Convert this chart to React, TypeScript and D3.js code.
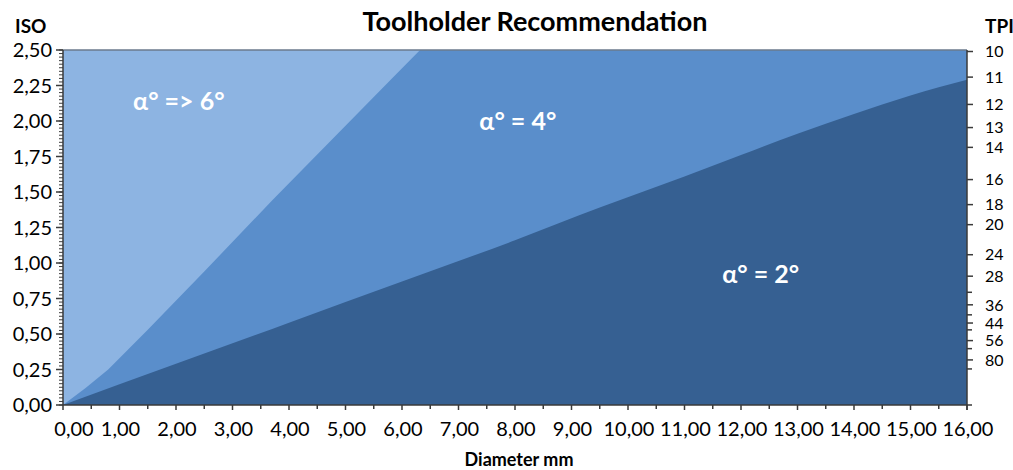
import React from "react";
import * as d3 from "d3";

// ---- data ----
const xTickValues = [0, 1, 2, 3, 4, 5, 6, 7, 8, 9, 10, 11, 12, 13, 14, 15, 16];
const yTickValues = [0, 0.25, 0.5, 0.75, 1, 1.25, 1.5, 1.75, 2, 2.25, 2.5];
const tpiLabeled = [10, 11, 12, 13, 14, 16, 18, 20, 24, 28, 36, 44, 56, 80];
const tpiUnlabeled = [32, 40, 48, 64, 100];

// upper limit of the α = 4° zone (boundary with α => 6°)
const limit4X = [0, 0.4, 0.8, 1.5, 2.5, 3.7, 5.8, 6.32, 16];
const limit4Y = [0, 0.12, 0.25, 0.53, 0.94, 1.44, 2.29, 2.5, 2.5];
// upper limit of the α = 2° zone (boundary with α = 4°)
const limit2X = [0, 2, 4, 6, 8, 9.5, 11, 12, 13, 14, 15, 16];
const limit2Y = [0, 0.29, 0.58, 0.87, 1.16, 1.39, 1.61, 1.76, 1.91, 2.05, 2.18, 2.29];

const zoneLabels = [
  { text: "α° => 6°", x: 2.05, y: 2.08 },
  { text: "α° = 4°", x: 8.05, y: 1.94 },
  { text: "α° = 2°", x: 12.35, y: 0.86 },
];

const W = 1013;
const H = 470;
const FONT = "Lato, 'Open Sans', sans-serif";

export default function App() {
  const x = d3.scaleLinear().domain([0, 16]).range([63, 967]);
  const y = d3.scaleLinear().domain([0, 2.5]).range([405, 50]);
  const fmt = (v: number) => d3.format(".2f")(v).replace(".", ",");

  const pts4 = limit4X.map((v, i) => [v, limit4Y[i]] as [number, number]);
  const pts2 = limit2X.map((v, i) => [v, limit2Y[i]] as [number, number]);

  const area4 = d3
    .area<[number, number]>()
    .x((d) => x(d[0]))
    .y0(y(0))
    .y1((d) => y(d[1]))
    .curve(d3.curveLinear)(pts4) as string;
  const area2 = d3
    .area<[number, number]>()
    .x((d) => x(d[0]))
    .y0(y(0))
    .y1((d) => y(d[1]))
    .curve(d3.curveMonotoneX)(pts2) as string;

  const minorY = d3.range(0, 2.5001, 0.025);
  const minorX = d3.range(0.5, 16, 1);
  const axisColor = "#3a3a3a";

  return (
    <svg
      width={W}
      height={H}
      style={{ position: "absolute", left: 0, top: 0, background: "#fff" }}
      fontFamily={FONT}
    >
      {/* zones */}
      <rect x={x(0)} y={y(2.5)} width={x(16) - x(0)} height={y(0) - y(2.5)} fill="#8DB4E2" />
      <path d={area4} fill="#5A8ECB" />
      <path d={area2} fill="#366092" />

      {/* frame */}
      <line x1={x(0)} x2={x(16)} y1={y(2.5)} y2={y(2.5)} stroke="#6b7a8c" strokeWidth={1.5} />
      <line x1={x(0)} x2={x(0)} y1={y(2.5)} y2={y(0)} stroke={axisColor} strokeWidth={1.5} />
      <line x1={x(0)} x2={x(16) + 5} y1={y(0)} y2={y(0)} stroke={axisColor} strokeWidth={1.5} />
      <line x1={x(16)} x2={x(16)} y1={y(2.5)} y2={y(0) + 5} stroke={axisColor} strokeWidth={1.5} />

      {/* left axis ticks */}
      {minorY.map((v, i) => (
        <line key={"my" + i} x1={x(0) - 4} x2={x(0)} y1={y(v)} y2={y(v)} stroke={axisColor} strokeWidth={1} />
      ))}
      {yTickValues.map((v) => (
        <g key={"y" + v}>
          <line x1={x(0) - 7} x2={x(0)} y1={y(v)} y2={y(v)} stroke={axisColor} strokeWidth={1.5} />
          <text x={x(0) - 11} y={y(v)} dy="0.35em" textAnchor="end" fontSize={20} fill="#000">
            {fmt(v)}
          </text>
        </g>
      ))}

      {/* bottom axis ticks */}
      {minorX.map((v, i) => (
        <line key={"mx" + i} x1={x(v)} x2={x(v)} y1={y(0)} y2={y(0) + 4} stroke={axisColor} strokeWidth={1.5} />
      ))}
      {xTickValues.map((v) => (
        <g key={"x" + v}>
          <line x1={x(v)} x2={x(v)} y1={y(0)} y2={y(0) + 5} stroke={axisColor} strokeWidth={1.5} />
          <text
            x={v === 0 ? x(v) + 11 : x(v) + 1}
            y={436}
            textAnchor="middle"
            fontSize={20}
            fill="#000"
          >
            {fmt(v)}
          </text>
        </g>
      ))}

      {/* right TPI axis */}
      {tpiUnlabeled.map((t) => (
        <line key={"tu" + t} x1={x(16)} x2={x(16) + 5} y1={y(Math.min(2.5, 25.4 / t))} y2={y(Math.min(2.5, 25.4 / t))} stroke={axisColor} strokeWidth={1.5} />
      ))}
      {tpiLabeled.map((t) => {
        const yy = y(Math.min(2.5, 25.4 / t)) + (t === 10 ? 1.5 : 0);
        return (
          <g key={"t" + t}>
            <line x1={x(16)} x2={x(16) + 6} y1={yy} y2={yy} stroke={axisColor} strokeWidth={1.5} />
            <text x={985} y={yy} dy="0.36em" fontSize={16} fill="#000">
              {t}
            </text>
          </g>
        );
      })}

      {/* titles */}
      <text x={535} y={31} textAnchor="middle" fontSize={27} fontWeight="bold" fill="#000">
        Toolholder Recommendation
      </text>
      <text x={15} y={33} fontSize={19} fontWeight="bold" fill="#000">
        ISO
      </text>
      <text x={985} y={33} fontSize={19} fontWeight="bold" fill="#000">
        TPI
      </text>
      <text x={519} y={466} textAnchor="middle" fontSize={18} fontWeight="bold" fill="#000">
        Diameter mm
      </text>

      {/* zone labels */}
      {zoneLabels.map((l) => (
        <text
          key={l.text}
          x={x(l.x)}
          y={y(l.y)}
          textAnchor="middle"
          fontSize={25}
          fontWeight="bold"
          fill="#fff"
        >
          {l.text}
        </text>
      ))}
    </svg>
  );
}
